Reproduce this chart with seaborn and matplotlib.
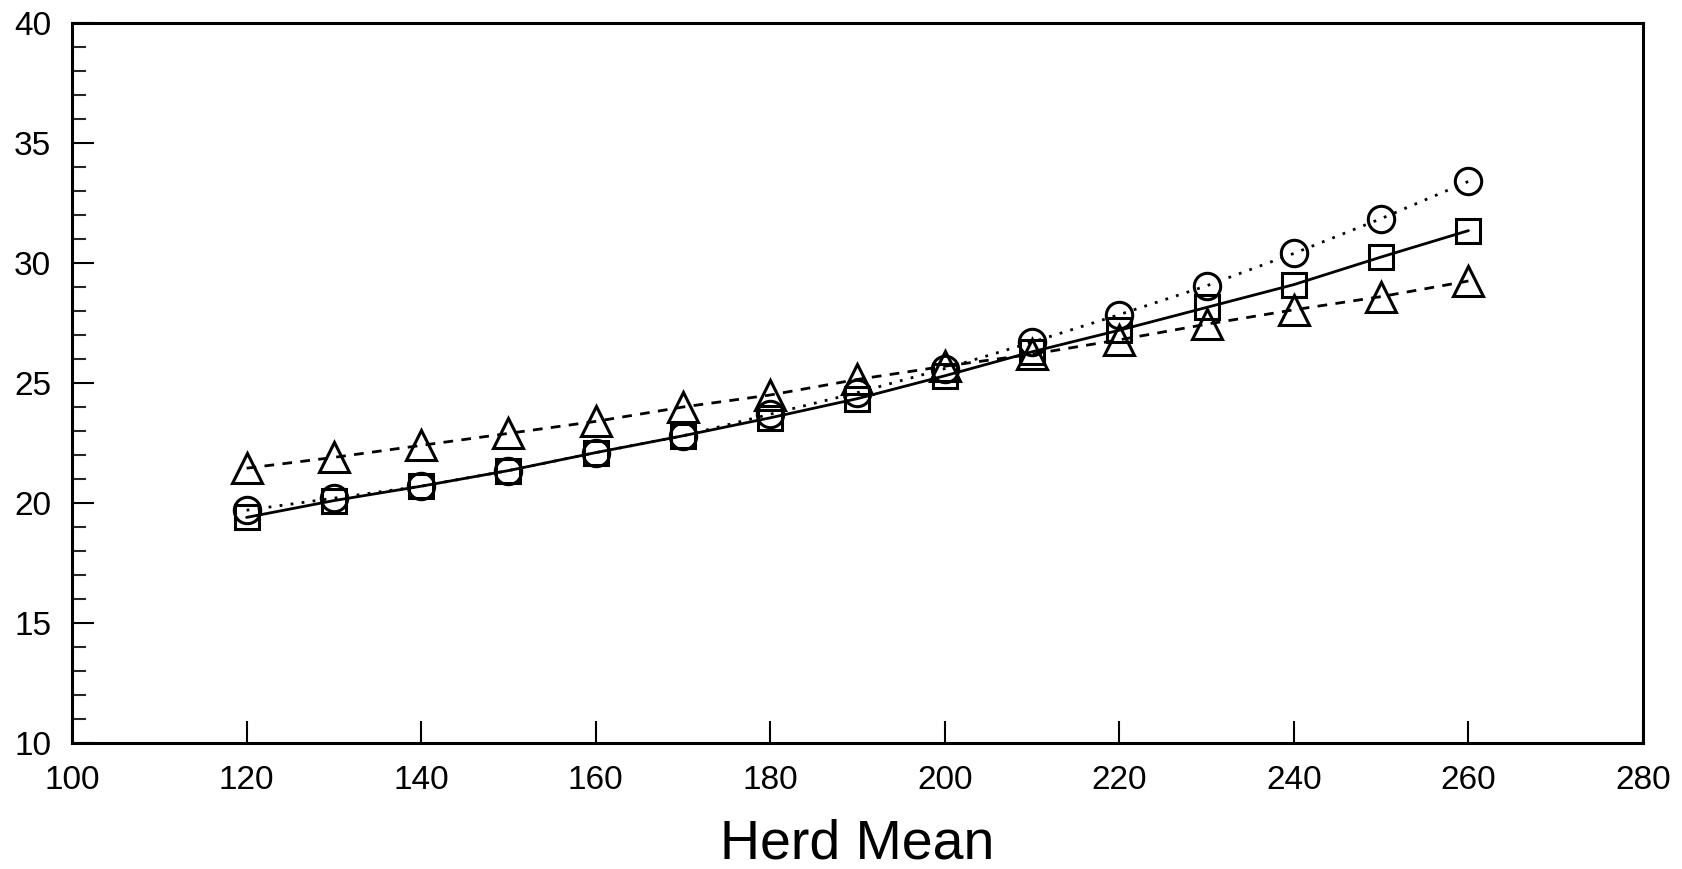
import matplotlib
matplotlib.use("Agg")
import matplotlib.pyplot as plt
import seaborn as sns
import pandas as pd
from matplotlib.ticker import MultipleLocator

herd_mean = [120, 130, 140, 150, 160, 170, 180, 190, 200, 210, 220, 230, 240, 250, 260]
square_vals = [19.4, 20.1, 20.7, 21.35, 22.1, 22.8, 23.55, 24.35, 25.3, 26.3, 27.2, 28.15, 29.1, 30.25, 31.35]
circle_vals = [19.7, 20.2, 20.7, 21.35, 22.1, 22.8, 23.7, 24.6, 25.6, 26.7, 27.85, 29.05, 30.4, 31.85, 33.4]
triangle_vals = [21.45, 21.9, 22.4, 22.9, 23.4, 24.0, 24.5, 25.15, 25.7, 26.2, 26.8, 27.45, 28.05, 28.6, 29.25]

x_ticks = [100, 120, 140, 160, 180, 200, 220, 240, 260, 280]
y_ticks = [10, 15, 20, 25, 30, 35, 40]
x_label = "Herd Mean"

sns.set_theme(style="ticks")
plt.rcParams['font.family'] = ['Liberation Sans', 'DejaVu Sans']

fig = plt.figure(figsize=(16.83, 8.69), dpi=100)
ax = fig.add_axes([0.0428, 0.145, 0.9334, 0.8285])

df = pd.DataFrame({"x": herd_mean, "sq": square_vals, "ci": circle_vals, "tr": triangle_vals})

common = dict(color="black", linewidth=2.0, markerfacecolor="none",
              markeredgecolor="black", markeredgewidth=2.2, ax=ax)
sns.lineplot(data=df, x="x", y="tr", marker="^", markersize=22, linestyle=(0, (3.5, 3.0)), **common)
sns.lineplot(data=df, x="x", y="ci", marker="o", markersize=19, linestyle=(0, (1, 3.0)), **common)
sns.lineplot(data=df, x="x", y="sq", marker="s", markersize=17, linestyle="-", **common)

ax.set_xlim(100, 280)
ax.set_ylim(10, 40)
ax.set_xticks(x_ticks)
ax.set_yticks(y_ticks)
ax.yaxis.set_minor_locator(MultipleLocator(1))
ax.tick_params(axis="both", which="major", direction="in", length=16, width=1.5,
               labelsize=24, colors="black")
ax.tick_params(axis="y", which="minor", direction="in", length=10, width=1.5)
ax.tick_params(axis="x", which="major", pad=16)
ax.tick_params(axis="y", which="major", pad=15)
for s in ax.spines.values():
    s.set_visible(True)
    s.set_linewidth(2.2)
    s.set_color("black")
ax.set_xlabel(x_label, fontsize=40, labelpad=16, color="black")
ax.set_ylabel("")
ax.grid(False)

fig.savefig("out.png", dpi=100, facecolor="white")
